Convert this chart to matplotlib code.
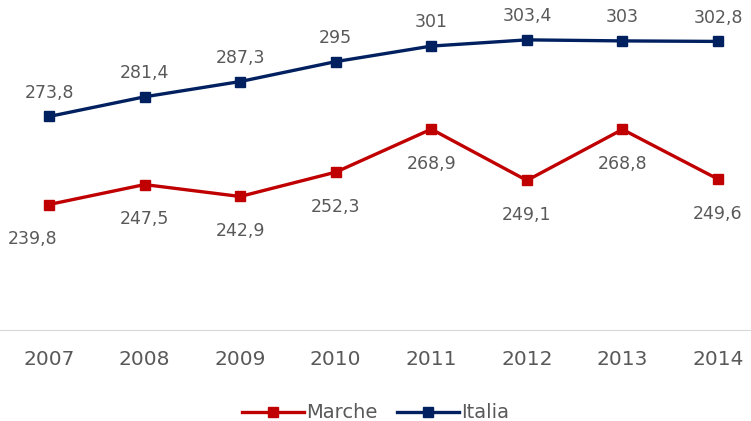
import matplotlib.pyplot as plt

# Values
years = ['2007', '2008', '2009', '2010', '2011', '2012', '2013', '2014']
marche = [239.8, 247.5, 242.9, 252.3, 268.9, 249.1, 268.8, 249.6]
italia = [273.8, 281.4, 287.3, 295.0, 301.0, 303.4, 303.0, 302.8]


def fmt(v):
    s = ('%.1f' % v).rstrip('0').rstrip('.')
    return s.replace('.', ',')


plt.rcParams['font.family'] = ['DejaVu Sans']
grey = '#595959'
red = '#C00000'
navy = '#002060'

fig = plt.figure(figsize=(7.51, 4.21), dpi=100)
ax = fig.add_axes([0, 0.216, 1, 0.784])
x = range(len(years))

ax.plot(x, marche, color=red, lw=2.4, marker='s', ms=7.5, label='Marche')
ax.plot(x, italia, color=navy, lw=2.4, marker='s', ms=7.5, label='Italia')

for i, v in enumerate(marche):
    dx = -12 if i == 0 else 0
    ax.annotate(fmt(v), (i, v), xytext=(dx, -25), textcoords='offset points',
                ha='center', va='center', fontsize=12.5, color=grey)
for i, v in enumerate(italia):
    ax.annotate(fmt(v), (i, v), xytext=(0, 17), textcoords='offset points',
                ha='center', va='center', fontsize=12.5, color=grey)

ax.set_xlim(-0.513, 7.345)
ax.set_ylim(191.3, 318.8)
ax.set_xticks(list(x))
ax.set_xticklabels(years, fontsize=14.5, color=grey)
ax.tick_params(axis='x', length=0, pad=14)
ax.set_yticks([])
for side in ['top', 'left', 'right']:
    ax.spines[side].set_visible(False)
ax.spines['bottom'].set_color('#D9D9D9')

fig.legend(loc='lower center', bbox_to_anchor=(0.5, -0.045), ncol=2, frameon=False,
           fontsize=14, labelcolor=grey, handlelength=3.2, handletextpad=0.1,
           columnspacing=1.0)

fig.savefig('out.png', dpi=100)
